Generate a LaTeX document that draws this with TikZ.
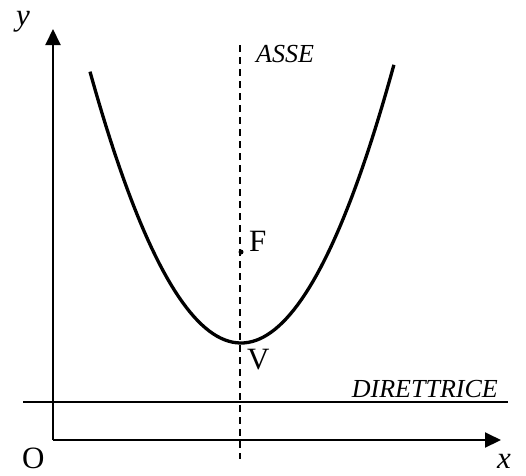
\documentclass[tikz,border=0pt]{standalone}
\usepackage{fontspec}
\setmainfont{Liberation Serif}
\usetikzlibrary{arrows.meta}
\begin{document}
\begin{tikzpicture}[x=1pt,y=-1pt,
  axisline/.style={line width=2pt,-{Triangle[length=16pt,width=15pt]}},
  lbl/.style={font=\fontsize{31}{33}\selectfont,inner sep=0pt,anchor=base west},
  ilbl/.style={font=\fontsize{26}{28}\selectfont\itshape,inner sep=0pt},
  vlbl/.style={font=\fontsize{31}{33}\selectfont\itshape,inner sep=0pt,anchor=base west}]
\useasboundingbox (0,0) rectangle (526,475);
\coordinate (O) at (53,440);
\coordinate (Ytip) at (53,29);
\coordinate (Xtip) at (501,440);
\coordinate (Dl) at (23,402);
\coordinate (Dr) at (508,402);
\coordinate (At) at (240,45);
\coordinate (Ab) at (240,459);
\draw[axisline] (O) -- (Ytip);
\draw[axisline] (O) -- (Xtip);
\draw[line width=1.6pt] (Dl) -- (Dr);
\draw[line width=1.6pt,dash pattern=on 7pt off 5pt] (At) -- (Ab);
\draw[line width=3.3pt,domain=-1.51:1.53,samples=80,variable=\t] plot ({241+100*\t},{343-119*\t*\t});
\node[circle,fill,inner sep=0pt,minimum size=5pt] (F) at (241,252) {};
\node[lbl] (Fl) at (249,251) {F};
\node[lbl] (Vl) at (247,369) {V};
\node[lbl] (Ol) at (22,468) {O};
\node[vlbl] (yl) at (16,25) {y};
\node[vlbl] (xl) at (497,468) {x};
\node[ilbl,anchor=base west] (asse) at (256,62) {ASSE};
\node[ilbl,anchor=base east] (dir) at (498,397) {DIRETTRICE};
\end{tikzpicture}
\end{document}
